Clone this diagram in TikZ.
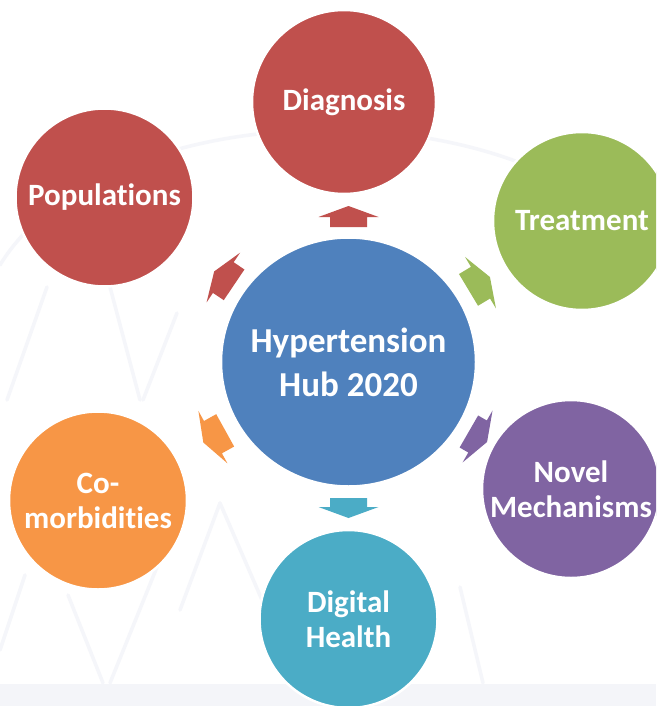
\documentclass[tikz,border=0pt]{standalone}
\usepackage{fontspec}
\setmainfont{Carlito}[Ligatures={NoCommon}]
\usetikzlibrary{calc,shapes.geometric}
\definecolor{hubblue}{HTML}{4F81BD}
\definecolor{diagred}{HTML}{C0504D}
\definecolor{treatgreen}{HTML}{9BBB59}
\definecolor{novelpurple}{HTML}{8064A2}
\definecolor{digitalteal}{HTML}{4BACC6}
\definecolor{comorange}{HTML}{F79646}
\definecolor{latticegray}{RGB}{245,246,250}
\definecolor{bandgray}{RGB}{244,245,249}
% block arrow pointing away from the hub: colour, angle, from radius, to radius
\def\hubarrow#1#2#3#4{\begin{scope}[shift={(hub)}, rotate=#2]
	\fill[#1] (#3,-18.5) -- ({#4-11},-18.5) -- ({#4-11},-30) -- (#4,0) -- ({#4-11},30) -- ({#4-11},18.5) -- (#3,18.5) -- cycle;
\end{scope}}
\tikzset{
	bubble/.style={circle, draw=white, line width=2.5pt, inner sep=0pt, minimum size=178pt, text=white, align=center, font=\fontsize{31}{35}\selectfont\bfseries},
	lattice/.style={draw=latticegray, line width=3.5pt, line cap=round}
}

\begin{document}
\begin{tikzpicture}[x=1pt, y=-1pt]
			%%%%% START %%%%%
			\clip (0, 0) rectangle (656, 706);
			\fill[white] (0, 0) rectangle (656, 706);
			
			% faint dome in the background
			\fill[bandgray] (0, 684) rectangle (656, 706);
			\draw[lattice] (0, 265) .. controls (110, 85) and (546, 85) .. (656, 265);
			\draw[lattice] (47, 287) -- (7, 400);
			\draw[lattice] (110, 287) -- (140, 400);
			\draw[lattice] (177, 313) -- (143, 400);
			\draw[lattice] (25, 575) -- (0, 650);
			\draw[lattice] (68, 595) -- (103, 683);
			\draw[lattice] (157, 567) -- (110, 683);
			\draw[lattice] (220, 503) -- (180, 610);
			\draw[lattice] (220, 503) -- (262, 600);
			\draw[lattice] (427, 580) -- (397, 683);
			\draw[lattice] (460, 587) -- (483, 683);
			
			% hub and topics
			\node[ellipse, draw=white, line width=2.5pt, inner sep=0pt, inner xsep=-40pt, minimum width=255pt, minimum height=249pt, fill=hubblue, text=white, align=center, font=\fontsize{35}{44}\selectfont\bfseries] (hub) at (348.5, 362) {Hypertension\\Hub 2020};
			
			\node[bubble, fill=diagred, minimum size=184pt] (diag) at (344, 102) {Diagnosis};
			\node[bubble, fill=diagred] (pop) at (104.5, 197.5) {Populations};
			\node[bubble, fill=treatgreen] (treat) at (582, 221) {Treatment};
			\node[bubble, fill=novelpurple] (novel) at (571, 489) {Novel\\Mechanisms};
			\node[bubble, fill=digitalteal] (digital) at (348.5, 619) {Digital\\Health};
			\node[bubble, fill=comorange] (comorb) at (98, 500.5) {Co-\\morbidities};
			
			% arrows out of the hub
			\hubarrow{diagred}{90}{135}{156}
			\hubarrow{treatgreen}{31}{140}{165}
			\hubarrow{novelpurple}{-30}{139}{160}
			\hubarrow{digitalteal}{-90}{136}{156}
			\hubarrow{comorange}{209}{141}{166}
			\hubarrow{diagred}{146}{138}{162}
			
			%%%%% END %%%%%
\end{tikzpicture}
\end{document}
